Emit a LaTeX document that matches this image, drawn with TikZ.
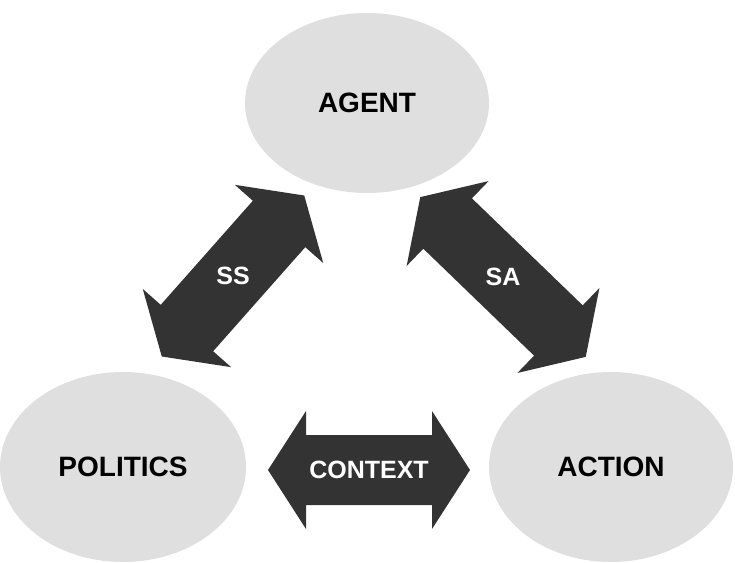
\documentclass[tikz,border=0pt]{standalone}
\usepackage{fontspec}
\setmainfont{Liberation Sans}
\usetikzlibrary{shapes.geometric}
\tikzset{
  blob/.style={ellipse, fill=gray!25, draw=none, font=\bfseries\fontsize{28}{32}\selectfont},
  arr/.style={fill=black!80, draw=none},
  lbl/.style={text=white, font=\bfseries\fontsize{25}{28}\selectfont}
}
\newcommand\dblarrow[5]{% name, center, angle, length, label
  \begin{scope}[shift={#2}, rotate=#3]
    \fill[arr] (-#4/2,0) -- (-#4/2+38,59) -- (-#4/2+38,35) -- (#4/2-38,35) -- (#4/2-38,59)
      -- (#4/2,0) -- (#4/2-38,-59) -- (#4/2-38,-35) -- (-#4/2+38,-35) -- (-#4/2+38,-59) -- cycle;
  \end{scope}
  \node[lbl] (#1) at #2 {#5};
}
\begin{document}
\begin{tikzpicture}[x=1pt,y=-1pt]
\useasboundingbox (0,0) rectangle (735,562);
\node[blob, minimum width=244pt, minimum height=180pt] (agent) at (367,103) {AGENT};
\node[blob, minimum width=246pt, minimum height=190pt] (politics) at (123,467) {POLITICS};
\node[blob, minimum width=244pt, minimum height=190pt] (action) at (611,467) {ACTION};
\dblarrow{ctx}{(369,470)}{0}{202}{CONTEXT}
\dblarrow{ss}{(233,276)}{48.5}{215}{SS}
\dblarrow{sa}{(503,277)}{-44}{230}{SA}
\end{tikzpicture}
\end{document}
